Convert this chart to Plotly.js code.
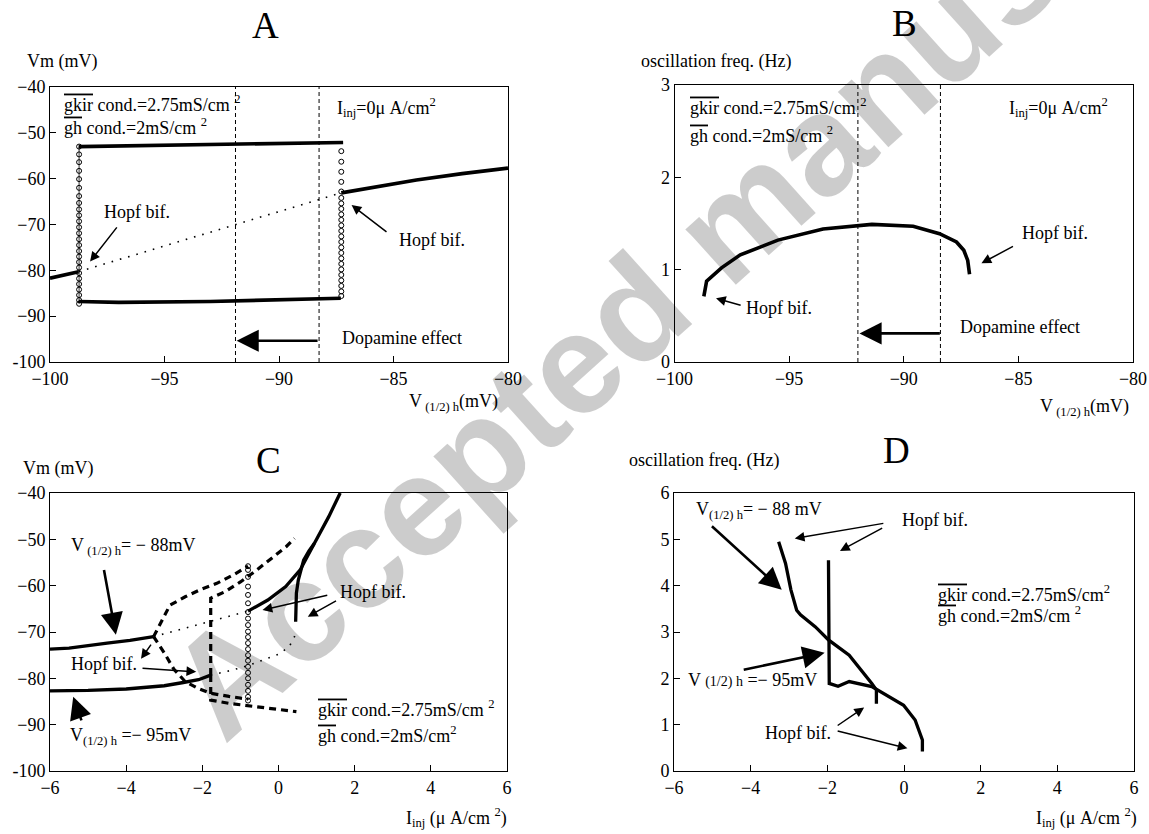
<!DOCTYPE html>
<html>
<head>
<meta charset="utf-8">
<script src="https://cdn.plot.ly/plotly-3.0.1.min.js"></script>
<style>html,body{margin:0;padding:0;background:#fff;}#chart{width:1149px;height:834px;}</style>
</head>
<body>
<div id="chart"></div>
<script>
// ---------------- Panel A : Vm vs V(1/2)h ----------------
const A_upper_x = [-98.75, -95, -91, -87.2];
const A_upper_y = [-53.0, -52.7, -52.4, -52.1];
const A_lower_x = [-98.75, -97, -93, -90, -87.3];
const A_lower_y = [-86.8, -87.0, -86.8, -86.5, -86.1];
const A_stableL_x = [-100, -98.75];
const A_stableL_y = [-81.7, -80.3];
const A_unstable_x = [-98.75, -91.9, -87.28];
const A_unstable_y = [-80.3, -70.05, -63.1];
const A_stableR_x = [-87.28, -86, -84, -82, -80];
const A_stableR_y = [-63.1, -62.0, -60.3, -58.9, -57.7];
const A_circL_x = -98.73;
const A_circL_y = [-53.0, -54.7, -56.4, -58.3, -60.1, -62.0, -63.8, -65.3, -66.7, -68.0, -69.3, -70.6, -71.9, -73.2, -74.5, -75.8, -77.0, -78.2, -79.4, -80.6, -81.8, -83.0, -84.2, -85.4, -86.5, -87.3];
const A_circR_x = -87.28;
const A_circR_y = [-54.0, -56.3, -58.5, -60.7, -62.8, -64.2, -65.4, -66.6, -67.8, -69.0, -70.2, -71.4, -72.6, -73.8, -75.0, -76.2, -77.4, -78.6, -79.8, -81.0, -82.2, -83.4, -84.6, -85.6];
const A_dopa_v = [-91.9, -88.25];
const A_xticks = [-100, -95, -90, -85, -80];
const A_xtext = ['\u2212100', '\u221295', '\u221290', '\u221285', '\u221280'];
const A_yticks = [-100, -90, -80, -70, -60, -50, -40];
const A_ytext = ['-100', '\u221290', '\u221280', '\u221270', '\u221260', '\u221250', '\u221240'];

// ---------------- Panel B : frequency vs V(1/2)h ----------------
const B_v = [-98.72, -98.6, -97.95, -97.13, -95.49, -93.52, -91.39, -89.59, -88.44, -87.7, -87.38, -87.21, -87.13];
const B_f = [0.71, 0.875, 1.02, 1.16, 1.32, 1.44, 1.49, 1.47, 1.39, 1.30, 1.21, 1.10, 0.95];
const B_dopa_v = [-92.0, -88.4];
const B_yticks = [0, 1, 2, 3];

// ---------------- Panel C : Vm vs Iinj ----------------
const C_st88_x = [-6, -5.5, -4.5, -3.9, -3.28];
const C_st88_y = [-73.7, -73.5, -72.4, -71.8, -71.0];
const C_st95_x = [-6, -5, -4, -3, -2.5, -2.1, -1.78];
const C_st95_y = [-82.7, -82.6, -82.3, -81.6, -80.9, -80.3, -79.3];
const C_un88_x = [-3.28, -2.0, -0.8];
const C_un88_y = [-71.0, -68.2, -65.5];
const C_un95_x = [-1.78, -1.2, -0.75, -0.3, 0.0, 0.28, 0.42, 0.47];
const C_un95_y = [-79.3, -78.2, -77.1, -75.8, -74.8, -73.2, -71.0, -69.5];
const C_up88_x = [-0.8, -0.28, 0.19, 0.57, 0.94, 1.32, 1.62];
const C_up88_y = [-65.5, -63.1, -60.2, -56.6, -50.9, -45.1, -40];
const C_up95_x = [0.45, 0.45, 0.47, 0.52, 0.66, 0.8, 0.94];
const C_up95_y = [-67.8, -64.0, -61.6, -58.8, -54.5, -52.5, -50.9];
const C_cyc88max_x = [-3.28, -3.1, -2.85, -2.45, -2.06, -1.62, -1.19, -0.8];
const C_cyc88max_y = [-71.0, -68.0, -64.2, -62.4, -60.9, -59.5, -57.7, -55.8];
const C_cyc88min_x = [-3.28, -3.0, -2.75, -2.45, -2.1, -1.8, -1.3, -0.8];
const C_cyc88min_y = [-71.0, -74.5, -78.0, -80.7, -82.2, -83.2, -83.9, -84.5];
const C_cyc95max_x = [-1.78, -1.78, -1.4, -1.0, -0.6, -0.2, 0.2, 0.42];
const C_cyc95max_y = [-79.3, -62.7, -61.3, -59.2, -56.8, -54.3, -51.6, -49.8];
const C_cyc95min_x = [-1.78, -1.78, -1.3, -0.8, -0.3, 0.2, 0.47];
const C_cyc95min_y = [-79.3, -84.7, -85.4, -85.9, -86.4, -86.9, -87.2];
const C_circ_x = -0.8;
const C_circ_y = [-55.8, -56.6, -58.1, -60.2, -62.0, -63.8, -65.7, -67.1, -68.5, -69.9, -71.1, -72.4, -73.7, -75.0, -76.2, -77.5, -78.8, -80.0, -81.4, -82.7, -84.0, -84.8];
const C_xticks = [-6, -4, -2, 0, 2, 4, 6];
const C_xtext = ['\u22126', '\u22124', '\u22122', '0', '2', '4', '6'];

// ---------------- Panel D : frequency vs Iinj ----------------
const D_f88_x = [-3.27, -3.09, -2.95, -2.8, -2.7, -2.31, -1.97, -1.43, -0.84, -0.72, -0.72];
const D_f88_y = [4.95, 4.48, 3.91, 3.47, 3.37, 3.11, 2.83, 2.5, 1.89, 1.75, 1.45];
const D_f95_x = [-1.97, -1.96, -1.95, -1.72, -1.43, -0.84, -0.4, -0.01, 0.29, 0.48, 0.48];
const D_f95_y = [4.55, 3.0, 1.89, 1.83, 1.93, 1.82, 1.6, 1.42, 1.1, 0.67, 0.42];
const D_yticks = [0, 1, 2, 3, 4, 5, 6];

const FONT = 'Liberation Serif, Times New Roman, serif';
const BLACK = '#000';

function line(xa, ya, x, y, w, dash) {
  return {x: x, y: y, xaxis: xa, yaxis: ya, mode: 'lines', hoverinfo: 'skip',
          line: {color: BLACK, width: w, dash: dash || 'solid'}};
}
function circles(xa, ya, xv, y, lw) {
  return {x: y.map(() => xv), y: y, xaxis: xa, yaxis: ya, mode: lw ? 'lines+markers' : 'markers', hoverinfo: 'skip',
          line: {color: BLACK, width: lw || 0.5},
          marker: {symbol: 'circle-open', size: 5, color: BLACK, line: {width: 1, color: BLACK}}};
}
const DOT = '1.6px,7px';
const DASH = '7px,5px';
const THIN = '4px,3px';

const traces = [
  // A
  line('x', 'y', [A_dopa_v[0], A_dopa_v[0]], [-100, -40], 1, THIN),
  line('x', 'y', [A_dopa_v[1], A_dopa_v[1]], [-100, -40], 1, THIN),
  circles('x', 'y', A_circL_x, A_circL_y, 0.8),
  circles('x', 'y', A_circR_x, A_circR_y),
  line('x', 'y', A_upper_x, A_upper_y, 3.6),
  line('x', 'y', A_lower_x, A_lower_y, 3.6),
  line('x', 'y', A_stableL_x, A_stableL_y, 3.6),
  line('x', 'y', A_unstable_x, A_unstable_y, 1.6, DOT),
  line('x', 'y', A_stableR_x, A_stableR_y, 3.6),
  // B
  line('x2', 'y2', [B_dopa_v[0], B_dopa_v[0]], [0, 3], 1, THIN),
  line('x2', 'y2', [B_dopa_v[1], B_dopa_v[1]], [0, 3], 1, THIN),
  line('x2', 'y2', B_v, B_f, 3.6),
  // C
  circles('x3', 'y3', C_circ_x, C_circ_y),
  line('x3', 'y3', C_st88_x, C_st88_y, 3.3),
  line('x3', 'y3', C_st95_x, C_st95_y, 3.3),
  line('x3', 'y3', C_un88_x, C_un88_y, 1.6, DOT),
  line('x3', 'y3', C_un95_x, C_un95_y, 1.6, DOT),
  line('x3', 'y3', C_up88_x, C_up88_y, 3.3),
  line('x3', 'y3', C_up95_x, C_up95_y, 3.3),
  line('x3', 'y3', C_cyc88max_x, C_cyc88max_y, 3.2, DASH),
  line('x3', 'y3', C_cyc88min_x, C_cyc88min_y, 3.2, DASH),
  line('x3', 'y3', C_cyc95max_x, C_cyc95max_y, 3.2, DASH),
  line('x3', 'y3', C_cyc95min_x, C_cyc95min_y, 3.2, DASH),
  // D
  line('x4', 'y4', D_f88_x, D_f88_y, 3.3),
  line('x4', 'y4', D_f95_x, D_f95_y, 3.3)
];

function axis(domain, range, tickvals, ticktext, anchor) {
  return {domain: domain, range: range, anchor: anchor, tickvals: tickvals, ticktext: ticktext,
          ticks: 'inside', ticklen: 6, tickwidth: 1, tickcolor: BLACK,
          showline: true, linecolor: BLACK, linewidth: 1, mirror: true,
          showgrid: false, zeroline: false, fixedrange: true,
          tickfont: {family: FONT, size: 18, color: BLACK}};
}
const W = 1149, H = 834;
const px = v => v / W, py = v => 1 - v / H;

const layout = {
  width: W, height: H, margin: {l: 0, r: 0, t: 0, b: 0},
  paper_bgcolor: '#fff', plot_bgcolor: 'rgba(0,0,0,0)', showlegend: false,
  font: {family: FONT, size: 18, color: BLACK},
  xaxis: axis([px(50), px(508)], [-100, -80], A_xticks, A_xtext, 'y'),
  yaxis: axis([py(362), py(87)], [-100, -40], A_yticks, A_ytext, 'x'),
  xaxis2: axis([px(674.5), px(1133)], [-100, -80], A_xticks, A_xtext, 'y2'),
  yaxis2: axis([py(362), py(85)], [0, 3], B_yticks, B_yticks.map(String), 'x2'),
  xaxis3: axis([px(50), px(507)], [-6, 6], C_xticks, C_xtext, 'y3'),
  yaxis3: axis([py(771), py(493)], [-100, -40], A_yticks, A_ytext, 'x3'),
  xaxis4: axis([px(674), px(1134)], [-6, 6], C_xticks, C_xtext, 'y4'),
  yaxis4: axis([py(771), py(493)], [0, 6], D_yticks, D_yticks.map(String), 'x4'),
  annotations: []
};

const ann = layout.annotations;
// watermark
ann.push({xref: 'paper', yref: 'paper', x: px(728), y: py(226), xanchor: 'center', yanchor: 'middle',
          text: 'Accepted manuscript', showarrow: false, textangle: -42,
          font: {family: 'Liberation Sans, Arial, sans-serif', size: 142, weight: 'bold', color: 'rgba(0,0,0,0.2)'}});

function txt(xref, yref, x, y, text, opts) {
  ann.push(Object.assign({xref: xref, yref: yref, x: x, y: y, text: text, showarrow: false,
    xanchor: 'left', yanchor: 'middle', font: {family: FONT, size: 18, color: BLACK}}, opts || {}));
}
function arr(xr, yr, x, y, ax, ay, big) {
  ann.push({xref: xr, yref: yr, axref: xr, ayref: yr, x: x, y: y, ax: ax, ay: ay, text: '',
    showarrow: true, arrowhead: 2, arrowsize: big ? 1.7 : 1.3, arrowwidth: big ? 2.6 : 1.5,
    arrowcolor: BLACK, standoff: 0, startstandoff: 0});
}
const OL = s => '<span style="text-decoration:overline">' + s + '</span>';
const GKIR = OL('gkir') + ' cond.=2.75mS/cm <sup>2</sup>';
const GH = OL('gh') + ' cond.=2mS/cm <sup>2</sup>';
const GH2 = OL('gh') + ' cond.=2mS/cm<sup>2</sup>';
const GKIR2 = OL('gkir') + ' cond.=2.75mS/cm<sup>2</sup>';
const IINJ0 = 'I<sub>inj</sub>=0\u03bc A/cm<sup>2</sup>';
const VH = 'V<sub> (1/2) h</sub>(mV)';
const IX = 'I<sub>inj</sub> (\u03bc A/cm <sup>2</sup>)';
const SM = s => '<span style="font-size:14px">' + s + '</span>';

// panel titles
const TF = {family: FONT, size: 37, color: BLACK};
txt('paper', 'paper', px(265.5), py(25), 'A', {xanchor: 'center', font: TF});
txt('paper', 'paper', px(904), py(23), 'B', {xanchor: 'center', font: TF});
txt('paper', 'paper', px(268), py(460), 'C', {xanchor: 'center', font: TF});
txt('paper', 'paper', px(896), py(450), 'D', {xanchor: 'center', font: TF});
// axis titles
txt('paper', 'paper', px(25), py(62), 'Vm (mV)');
txt('paper', 'paper', px(639), py(62), 'oscillation freq. (Hz)');
txt('paper', 'paper', px(21), py(469), 'Vm (mV)');
txt('paper', 'paper', px(627), py(460), 'oscillation freq. (Hz)');
txt('paper', 'paper', px(500), py(402), VH, {xanchor: 'right'});
txt('paper', 'paper', px(1131), py(407), VH, {xanchor: 'right'});
txt('paper', 'paper', px(509), py(817), IX, {xanchor: 'right'});
txt('paper', 'paper', px(1139), py(817), IX, {xanchor: 'right'});

// Panel A texts
txt('x', 'y', -99.48, -43.7, GKIR);
txt('x', 'y', -99.48, -48.7, GH);
txt('x', 'y', -87.55, -44.4, IINJ0);
txt('x', 'y', -96.2, -67.3, 'Hopf bif.', {xanchor: 'center'});
txt('x', 'y', -83.3, -73.4, 'Hopf bif.', {xanchor: 'center'});
txt('x', 'y', -87.33, -94.8, 'Dopamine effect');
arr('x', 'y', -98.25, -78.1, -97.03, -70.3);
arr('x', 'y', -86.83, -65.75, -85.24, -71.86);
arr('x', 'y', -91.85, -95.35, -88.25, -95.35, true);

// Panel B texts
txt('x2', 'y2', -99.42, 2.77, GKIR);
txt('x2', 'y2', -99.42, 2.46, GH);
txt('x2', 'y2', -85.49, 2.76, IINJ0);
txt('x2', 'y2', -83.4, 1.40, 'Hopf bif.', {xanchor: 'center'});
txt('x2', 'y2', -95.44, 0.58, 'Hopf bif.', {xanchor: 'center'});
txt('x2', 'y2', -87.63, 0.38, 'Dopamine effect');
arr('x2', 'y2', -86.61, 1.07, -85.17, 1.26);
arr('x2', 'y2', -98.19, 0.69, -97.05, 0.61);
arr('x2', 'y2', -91.93, 0.31, -88.36, 0.31, true);

// Panel C texts
txt('x3', 'y3', -5.49, -51.6, 'V<sub> (1/2) h</sub>= \u2212 88mV');
txt('x3', 'y3', 1.55, -61.3, 'Hopf bif.');
txt('x3', 'y3', -5.49, -76.8, 'Hopf bif.');
txt('x3', 'y3', -5.53, -92.6, 'V<sub>(1/2) h</sub> =\u2212 95mV');
txt('x3', 'y3', 0.985, -86.5, GKIR);
txt('x3', 'y3', 0.985, -92.2, GH2);
arr('x3', 'y3', -4.27, -70.6, -4.59, -56.3, true);
arr('x3', 'y3', -0.42, -65.25, 1.32, -62.0);
arr('x3', 'y3', 0.77, -66.7, 1.55, -63.1);
arr('x3', 'y3', -2.16, -78.6, -3.61, -77.8);
arr('x3', 'y3', -3.61, -75.8, -3.32, -72.4);
arr('x3', 'y3', -5.39, -84.0, -5.16, -89.4, true);

// Panel D texts
txt('x4', 'y4', -5.49, 5.63, 'V<sub>(1/2) h</sub>= \u2212 88 mV');
txt('x4', 'y4', -0.10, 5.42, 'Hopf bif.');
txt('x4', 'y4', 0.83, 3.84, GKIR2);
txt('x4', 'y4', 0.83, 3.37, GH);
txt('x4', 'y4', -5.69, 1.96, 'V ' + SM('(1/2) h') + ' =\u2212 95mV');
txt('x4', 'y4', -3.68, 0.83, 'Hopf bif.');
arr('x4', 'y4', -3.19, 3.91, -5.05, 5.31, true);
arr('x4', 'y4', -2.85, 5.02, -0.50, 5.35);
arr('x4', 'y4', -1.67, 4.75, -0.53, 5.26);
arr('x4', 'y4', -2.07, 2.55, -4.22, 2.18, true);
arr('x4', 'y4', -1.04, 1.37, -1.77, 0.96);
arr('x4', 'y4', 0.09, 0.49, -1.77, 0.87);

Plotly.newPlot('chart', traces, layout, {staticPlot: true, displayModeBar: false});
</script>
</body>
</html>
